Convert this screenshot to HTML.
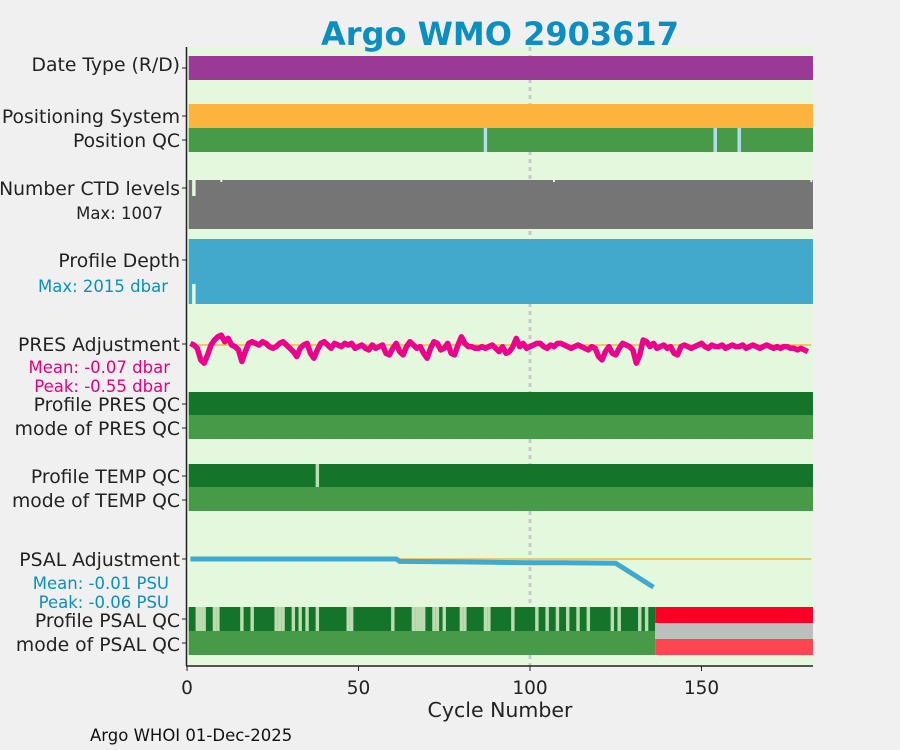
<!DOCTYPE html>
<html><head><meta charset="utf-8">
<style>
body{margin:0;background:#f0f0f0;}
svg{display:block;font-family:"DejaVu Sans","Liberation Sans",sans-serif;}
</style></head>
<body>
<svg id="chart" width="900" height="750" viewBox="0 0 900 750" xmlns="http://www.w3.org/2000/svg">
<rect width="900" height="750" fill="#f0f0f0"/>
<rect x="187" y="47" width="626" height="619" fill="#e4f8de"/>
<line x1="530" x2="530" y1="47" y2="666" stroke="#c8c8c8" stroke-width="3" stroke-dasharray="4 4"/>
<g id="marks"></g>
<g id="labels" font-size="18.8" fill="#222" text-anchor="end">
<text x="180" y="71">Date Type (R/D)</text>
<text x="180" y="123">Positioning System</text>
<text x="180" y="147">Position QC</text>
<text x="180" y="195">Number CTD levels</text>
<text x="163" y="219" font-size="16.5">Max: 1007</text>
<text x="180" y="267">Profile Depth</text>
<text x="168" y="292" font-size="16.5" fill="#0a8fc0">Max: 2015 dbar</text>
<text x="180" y="351">PRES Adjustment</text>
<text x="170" y="373" font-size="16.5" fill="#e6007e">Mean: -0.07 dbar</text>
<text x="170" y="392" font-size="16.5" fill="#e6007e">Peak: -0.55 dbar</text>
<text x="180" y="411">Profile PRES QC</text>
<text x="180" y="435">mode of PRES QC</text>
<text x="180" y="483">Profile TEMP QC</text>
<text x="180" y="507">mode of TEMP QC</text>
<text x="180" y="566">PSAL Adjustment</text>
<text x="169" y="589" font-size="16.5" fill="#0a8fc0">Mean: -0.01 PSU</text>
<text x="169" y="608" font-size="16.5" fill="#0a8fc0">Peak: -0.06 PSU</text>
<text x="180" y="627">Profile PSAL QC</text>
<text x="180" y="651">mode of PSAL QC</text>
</g>
<g id="axis"></g>
<text x="500" y="717" text-anchor="middle" font-size="20.5" fill="#222">Cycle Number</text>
<text x="90" y="741" font-size="16.5" fill="#111">Argo WHOI 01-Dec-2025</text>
<text x="500" y="45" text-anchor="middle" font-size="32" font-weight="bold" fill="#0a8fc0">Argo WMO 2903617</text>
</svg>
<script>
const nCycles = 182;
const xTicks = [0, 50, 100, 150];
const positionQcBad = [87, 154, 161];
const ctdFullGap = [2];
const ctdSmallGap = [10, 107, 182];
const depthGap = [2];
const tempQcBad = [38];
const psalQcBad = [3,4,5,8,9,16,19,26,27,28,31,33,35,38,47,48,60,66,67,68,69,72,73,75,80,81,87,88,95,102,105,108,111,114,117,124,126,132,134];
const psalLastGood = 136;
const presAdj = [0.05,0.0,-0.1,-0.45,-0.55,-0.3,0.0,0.15,0.25,0.3,0.1,0.2,0.0,-0.05,-0.15,-0.5,-0.2,0.05,0.1,0.05,0.0,0.1,0.05,-0.05,-0.1,-0.05,0.05,0.1,0.0,-0.1,-0.2,-0.35,-0.1,0.0,0.05,-0.25,-0.4,-0.15,0.05,0.1,0.0,-0.1,0.05,0.0,-0.05,0.05,0.0,0.05,-0.1,-0.05,0.0,-0.1,-0.15,0.0,-0.1,-0.05,0.0,-0.25,-0.3,-0.1,0.05,-0.2,-0.3,-0.05,0.1,0.0,-0.1,-0.05,-0.25,-0.4,-0.1,0.1,0.05,-0.15,-0.1,0.05,-0.25,-0.3,0.0,0.25,0.05,-0.05,-0.05,-0.1,-0.1,-0.05,-0.1,-0.05,0.0,-0.1,-0.2,-0.05,-0.25,-0.2,-0.05,0.2,-0.05,0.05,-0.1,-0.05,0.0,0.05,0.05,-0.05,-0.1,0.0,-0.05,0.05,0.05,0.0,-0.05,-0.1,-0.05,0.0,-0.05,-0.1,-0.15,-0.05,-0.1,-0.35,-0.45,-0.2,-0.05,-0.25,-0.3,-0.1,0.05,0.0,-0.05,-0.15,-0.55,-0.3,0.15,0.1,-0.05,0.05,-0.1,-0.05,0.0,-0.1,-0.05,-0.25,-0.3,-0.05,0.0,-0.05,-0.1,-0.05,0.0,0.05,-0.05,-0.1,0.0,-0.05,-0.05,0.0,-0.1,-0.05,0.0,-0.05,-0.05,0.0,-0.1,-0.05,0.0,-0.05,-0.1,-0.05,0.0,-0.05,-0.1,-0.05,-0.1,-0.05,-0.05,-0.1,-0.1,-0.15,-0.1,-0.15,-0.2];
const psalCycles = [1, 61, 62, 80, 100, 110, 125, 136];
const psalAdj = [0.0, 0.0, -0.005, -0.006, -0.008, -0.008, -0.009, -0.06];

const NS='http://www.w3.org/2000/svg';
const marks=document.getElementById('marks'), axis=document.getElementById('axis');
const x0=187, x100=530;
const xs=c=>x0+(x100-x0)*c/100;
const presY=v=>345-v*33;
const psalY=v=>559-v*470;
function mk(tag,attrs,parent){const e=document.createElementNS(NS,tag);for(const k in attrs)e.setAttribute(k,attrs[k]);parent.appendChild(e);return e;}
function band(y,h,c1,c2,fill,name){
  const r=mk('rect',{x:xs(c1-0.5),y:y,width:xs(c2+0.5)-xs(c1-0.5),height:h,fill:fill},marks);
  
  
}
band(56,24,1,nCycles,'#9b3a96','date-type-band');
band(104,24,1,nCycles,'#fdb43f','positioning-system-band');
band(128,24,1,nCycles,'#479a47','position-qc-band');
positionQcBad.forEach(c=>band(128,24,c,c,'#b5dcea','position-qc-flag'));
band(180,49,1,nCycles,'#757575','ctd-levels-band');
ctdFullGap.forEach(c=>band(180,16,c,c,'#e4f8de','ctd-levels-gap'));
ctdSmallGap.forEach(c=>{const r=mk('rect',{x:xs(c)-1,y:180,width:2,height:2,fill:'#e4f8de'},marks);});
band(239,65,1,nCycles,'#42a9cd','profile-depth-band');
depthGap.forEach(c=>band(284,20,c,c,'#e4f8de','profile-depth-gap'));
band(392,23,1,nCycles,'#14752a','pres-qc-band');
band(415,24,1,nCycles,'#479a47','pres-mode-band');
band(464,23,1,nCycles,'#14752a','temp-qc-band');
tempQcBad.forEach(c=>band(464,23,c,c,'#bddbb0','temp-qc-flag'));
band(487,24,1,nCycles,'#479a47','temp-mode-band');
band(607,24,1,psalLastGood,'#14752a','psal-qc-band');
psalQcBad.forEach(c=>band(607,24,c,c,'#bddbb0','psal-qc-flag'));
band(631,24,1,psalLastGood,'#479a47','psal-mode-band');
band(607,16,psalLastGood+1,nCycles,'#fb0025','psal-qc-missing');
band(623,16,psalLastGood+1,nCycles,'#bebebe','psal-qc-missing-mid');
band(639,16,psalLastGood+1,nCycles,'#ff4452','psal-mode-missing');
let z=mk('line',{x1:xs(1),x2:xs(nCycles),y1:presY(0),y2:presY(0),stroke:'#f0b840','stroke-width':1.5},marks);

z=mk('line',{x1:xs(1),x2:xs(nCycles),y1:psalY(0),y2:psalY(0),stroke:'#f0b840','stroke-width':1.5},marks);

let p=mk('polyline',{points:presAdj.map((v,i)=>xs(i+1)+','+presY(v)).join(' '),fill:'none',stroke:'#ec008c','stroke-width':5.5,'stroke-linejoin':'round'},marks);

p=mk('polyline',{points:psalCycles.map((c,i)=>xs(c)+','+psalY(psalAdj[i])).join(' '),fill:'none',stroke:'#42a9cd','stroke-width':5},marks);

let a=mk('line',{x1:x0-0.5,x2:x0-0.5,y1:47,y2:666,stroke:'#222','stroke-width':1.5},axis);

a=mk('line',{x1:x0-1,x2:813,y1:666,y2:666,stroke:'#222','stroke-width':1.5},axis);

xTicks.forEach(t=>{
  const tk=mk('line',{x1:xs(t),x2:xs(t),y1:666,y2:671,stroke:'#222'},axis);
  
  const tx=mk('text',{x:xs(t),y:694,'text-anchor':'middle','font-size':18.5,fill:'#222'},axis);
  tx.textContent=t;
  
});
[68,116,140,188,260,344,404,428,476,500,559,619,643].forEach(y=>{
  const tk=mk('line',{x1:x0-5,x2:x0,y1:y,y2:y,stroke:'#222'},axis);
  
});
</script>
</body></html>
